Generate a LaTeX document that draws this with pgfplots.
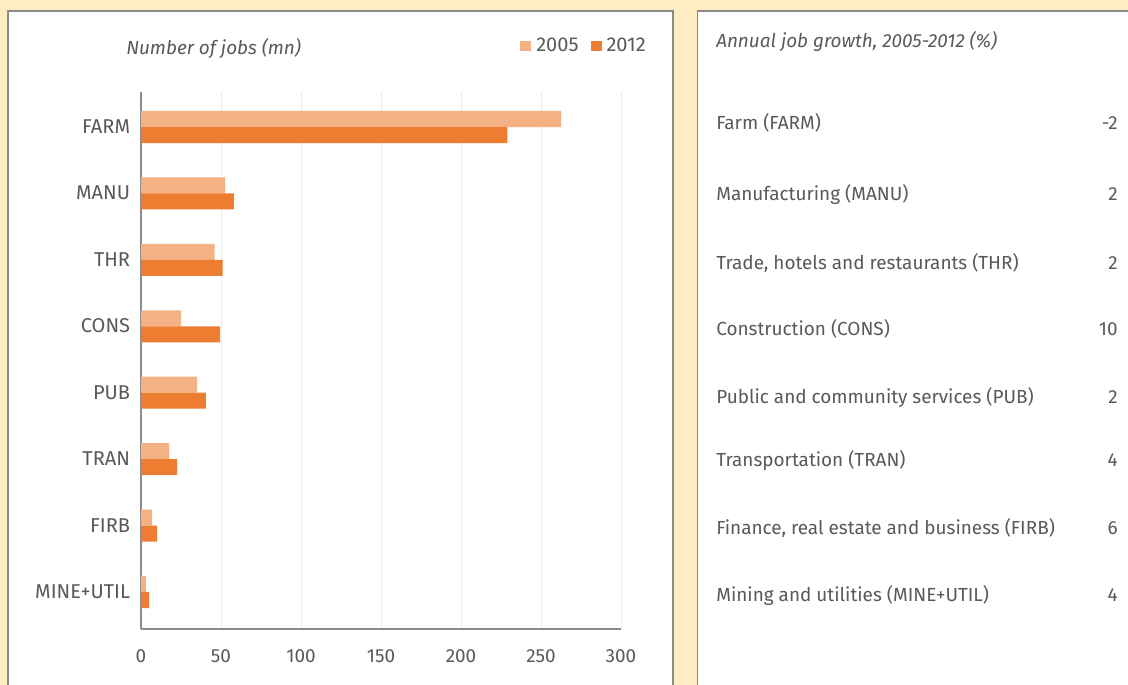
\documentclass[border=0pt]{standalone}
\usepackage{pgfplots}
\pgfplotsset{compat=1.18}
\usepackage{fontspec}
\setmainfont{Fira Sans}
\definecolor{bg}{HTML}{FFECC3}
\definecolor{c05}{HTML}{F4B183}
\definecolor{c12}{HTML}{ED7D31}
\definecolor{txt}{HTML}{595959}
\definecolor{frm}{HTML}{8A8A8A}
\definecolor{gridc}{HTML}{EBEBEB}
\definecolor{axc}{HTML}{8C8C8C}
\newcommand{\lbl}{\fontsize{14.2}{17}\selectfont}
\newcommand{\cat}{\fontsize{15}{18}\selectfont}
\newcommand{\ttl}{\itshape\fontsize{14.2}{17}\selectfont}
\begin{document}
\begin{tikzpicture}[x=0.75pt,y=0.75pt]
\useasboundingbox (0,0) rectangle (1128,685);
\begin{scope}
\clip (0,0) rectangle (1128,685);
\fill[bg] (0,0) rectangle (1128,685);
\draw[frm, fill=white, line width=1pt] (8,-20) rectangle (673,674);
\draw[frm, fill=white, line width=1pt] (697.5,-20) rectangle (1160,674);
\end{scope}
\begin{axis}[
  at={(105.75pt,42pt)}, anchor=south west,
  scale only axis, width=360pt, height=402.75pt,
  xmin=0, xmax=300, ymin=-0.557, ymax=7.527,
  xbar, bar width=0.241,
  xtick={0,50,...,300},
  ytick={0,...,7},
  yticklabels={MINE+UTIL,FIRB,TRAN,PUB,CONS,THR,MANU,FARM},
  xmajorgrids, major grid style={draw=gridc, line width=0.75pt},
  axis x line*=bottom, axis y line*=left,
  axis line style={draw=axc, line width=1pt, -},
  tick style={draw=none},
  /pgf/number format/assume math mode=true,
  tick label style={font=\lbl, text=txt, inner sep=0pt},
  xticklabel style={anchor=base, yshift=-25.5pt},
  yticklabel style={font=\cat, anchor=base east, xshift=-3.75pt, yshift=-4.9pt},
  legend columns=-1,
  legend image code/.code={\fill[#1] (0pt,-3.75pt) rectangle (8.25pt,3.75pt);},
  legend style={at={(1.052,1.0857)}, anchor=east, draw=none, fill=none,
     inner sep=0pt, font=\cat, text=txt, nodes={inner sep=0pt},
     /tikz/every odd column/.append style={column sep=3.75pt},
     /tikz/every even column/.append style={column sep=9pt}},
]
\addplot[fill=c05, draw=none, bar shift=0.1205] coordinates {(262.5,7) (52.5,6) (46,5) (25,4) (35,3) (17.5,2) (7,1) (3,0)};
\addplot[fill=c12, draw=none, bar shift=-0.1205] coordinates {(229,7) (58,6) (51,5) (49.4,4) (40.6,3) (22.5,2) (10,1) (5,0)};
\legend{2005,2012}
\end{axis}
\node[anchor=base west, font=\ttl, text=txt, inner sep=0pt] at (126,630) {Number of jobs (mn)};
\node[anchor=base west, font=\ttl, text=txt, inner sep=0pt] at (716,637) {Annual job growth, 2005-2012 (\%)};
\begin{scope}[every node/.style={font=\lbl, text=txt, inner sep=0pt}]
\node[anchor=base west] at (716,555.7) {Farm (FARM)};
\node[anchor=base east] at (1118,555.7) {-2};
\node[anchor=base west] at (716,484.3) {Manufacturing (MANU)};
\node[anchor=base east] at (1118,484.3) {2};
\node[anchor=base west] at (716,415) {Trade, hotels and restaurants (THR)};
\node[anchor=base east] at (1118,415) {2};
\node[anchor=base west] at (716,349.3) {Construction (CONS)};
\node[anchor=base east] at (1118,349.3) {10};
\node[anchor=base west] at (716,281.7) {Public and community services (PUB)};
\node[anchor=base east] at (1118,281.7) {2};
\node[anchor=base west] at (716,218.3) {Transportation (TRAN)};
\node[anchor=base east] at (1118,218.3) {4};
\node[anchor=base west] at (716,150.7) {Finance, real estate and business (FIRB)};
\node[anchor=base east] at (1118,150.7) {6};
\node[anchor=base west] at (716,83.3) {Mining and utilities (MINE+UTIL)};
\node[anchor=base east] at (1118,83.3) {4};
\end{scope}
\end{tikzpicture}
\end{document}
